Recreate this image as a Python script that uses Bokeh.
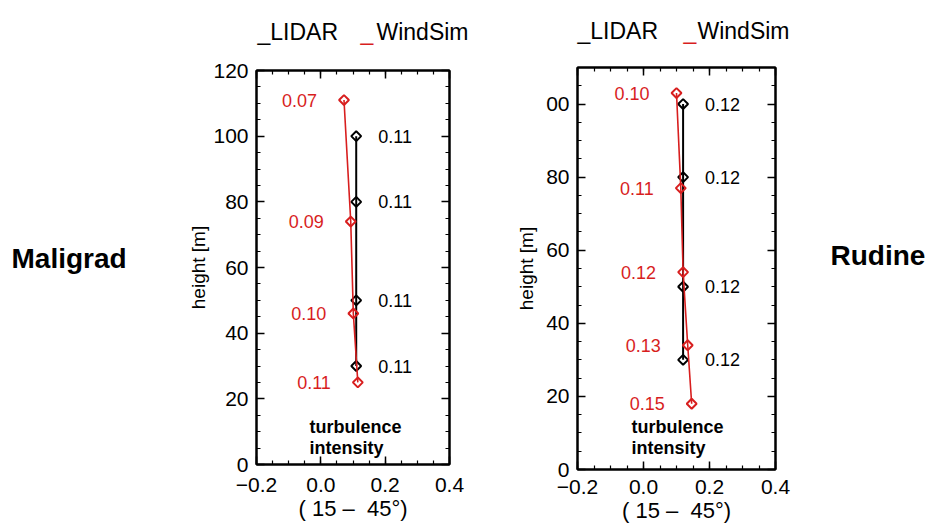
from bokeh.plotting import figure
from bokeh.models import Range1d, FixedTicker, LinearAxis, Label, ColumnDataSource, CustomJSTickFormatter
from bokeh.layouts import row, column
from bokeh.embed import file_html
from bokeh.resources import INLINE
from bokeh.core.properties import value
import math

# ---------------- data ----------------
mal_lidar_h = [100, 80, 50, 30]
mal_lidar_ti = [0.11, 0.11, 0.11, 0.11]
mal_lidar_lbl = ["0.11", "0.11", "0.11", "0.11"]
mal_ws_h = [111, 74, 46, 25]
mal_ws_ti = [0.072, 0.093, 0.101, 0.115]
mal_ws_lbl = ["0.07", "0.09", "0.10", "0.11"]

rud_lidar_h = [100, 80, 50, 30]
rud_lidar_ti = [0.12, 0.12, 0.12, 0.12]
rud_lidar_lbl = ["0.12", "0.12", "0.12", "0.12"]
rud_ws_h = [103, 77, 54, 34, 18]
rud_ws_ti = [0.10, 0.113, 0.12, 0.134, 0.146]
rud_ws_lbl = ["0.10", "0.11", "0.12", "0.13", "0.15"]

x_ticks = [-0.2, 0.0, 0.2, 0.4]
x_tick_labels = {-0.2: "\u22120.2", 0.0: "0.0", 0.2: "0.2", 0.4: "0.4"}
x_minor = [-0.2 + 0.05 * i for i in range(13)]
mal_y_ticks = [0, 20, 40, 60, 80, 100, 120]
rud_y_ticks = [0, 20, 40, 60, 80, 100]
rud_y_tick_labels = {100: "00"}

FONT = "Liberation Sans"
RED = "#d81e1e"
TOP = 50  # height of the strip holding the legends


def style_axis(ax, ticks, minor, labels=True, size="21px", standoff=8):
    ax.ticker = FixedTicker(ticks=ticks, minor_ticks=minor)
    ax.major_tick_in = 8
    ax.major_tick_out = 0
    ax.minor_tick_in = 4
    ax.minor_tick_out = 0
    ax.axis_line_width = 2
    ax.major_tick_line_width = 1.5
    ax.minor_tick_line_width = 1.2
    ax.major_label_text_font = FONT
    ax.major_label_text_font_size = size
    ax.major_label_text_color = "black"
    ax.major_label_standoff = standoff
    ax.axis_label_text_font = FONT
    ax.axis_label_text_font_style = "normal"
    ax.axis_label_text_color = "black"
    if not labels:
        ax.formatter = CustomJSTickFormatter(code="return '';")


def panel(width, borders, y_end, y_ticks, y_minor, y_overrides,
          l_h, l_ti, l_lbl, w_h, w_ti, w_lbl, xstand, ylab_stand, xlab_stand):
    left, right, top, bottom = borders
    p = figure(width=width, height=529 - TOP, output_backend="svg", toolbar_location=None,
               x_range=Range1d(-0.2, 0.4), y_range=Range1d(0, y_end),
               min_border_left=left, min_border_right=right,
               min_border_top=top, min_border_bottom=bottom,
               x_axis_label="( 15 \u2013\u00a0 45\u00b0)", y_axis_label="height [m]")
    p.grid.visible = False
    p.outline_line_color = "black"
    p.outline_line_width = 2
    p.background_fill_color = "white"
    p.border_fill_color = "white"

    xa = p.xaxis[0]
    style_axis(xa, x_ticks, x_minor, standoff=xstand)
    xa.major_label_overrides = x_tick_labels
    xa.axis_label_text_font_size = "22px"
    xa.axis_label_standoff = xlab_stand

    ya = p.yaxis[0]
    style_axis(ya, y_ticks, y_minor, standoff=8)
    ya.major_label_overrides = y_overrides
    ya.axis_label_text_font_size = "19px"
    ya.axis_label_standoff = ylab_stand

    ra = LinearAxis()
    style_axis(ra, y_ticks, y_minor, labels=False, size="1px", standoff=0)
    p.add_layout(ra, "right")
    ta = LinearAxis()
    style_axis(ta, x_ticks, x_minor, labels=False, size="1px", standoff=0)
    p.add_layout(ta, "above")

    ls = ColumnDataSource(dict(x=l_ti, y=l_h, t=l_lbl))
    ws = ColumnDataSource(dict(x=w_ti, y=w_h, t=w_lbl))

    p.line("x", "y", source=ls, line_color="black", line_width=2)
    p.scatter("x", "y", source=ls, marker="square", angle=math.pi / 4, size=7,
              fill_color=None, line_color="black", line_width=2)
    p.line("x", "y", source=ws, line_color=RED, line_width=1.6)
    p.scatter("x", "y", source=ws, marker="square", angle=math.pi / 4, size=7,
              fill_color=None, line_color=RED, line_width=2)

    p.text("x", "y", text="t", source=ls, x_offset=22, text_align="left",
           text_baseline="middle", text_font=value(FONT), text_font_size="18px",
           text_color="black")
    p.text("x", "y", text="t", source=ws, x_offset=-27, text_align="right",
           text_baseline="middle", text_font=value(FONT), text_font_size="18px",
           text_color=RED)
    return p


def blank(width, height):
    p = figure(width=width, height=height, output_backend="svg", toolbar_location=None,
               min_border=0, x_axis_location=None, y_axis_location=None,
               x_range=Range1d(0, 1), y_range=Range1d(0, 1))
    p.grid.visible = False
    p.outline_line_color = None
    p.background_fill_color = "white"
    p.border_fill_color = "white"
    return p


def lab(p, text, x, y, size, color="black", bold=False):
    # x, y: canvas pixels of the text's left baseline, from the figure's top-left
    p.add_layout(Label(x=x, y=y, x_units="canvas", y_units="canvas", text=text,
                       text_font=FONT, text_font_size=size, text_color=color,
                       text_font_style="bold" if bold else "normal",
                       text_align="left", text_baseline="alphabetic"))


pa = panel(310, (76, 41, 70 - TOP, 65), 120, mal_y_ticks, list(range(0, 121, 5)), {},
           mal_lidar_h, mal_lidar_ti, mal_lidar_lbl, mal_ws_h, mal_ws_ti, mal_ws_lbl,
           xstand=13, ylab_stand=1, xlab_stand=1)
pb = panel(305, (87, 20, 67 - TOP, 60), 110, rud_y_ticks, list(range(0, 111, 5)), rud_y_tick_labels,
           rud_lidar_h, rud_lidar_ti, rud_lidar_lbl, rud_ws_h, rud_ws_ti, rud_ws_lbl,
           xstand=10, ylab_stand=6, xlab_stand=1)

# legend strip
top = blank(930, TOP)
lab(top, "_LIDAR", 257, 31.5, "23px")
lab(top, "_", 360, 31.5, "23px", color=RED)
lab(top, "WindSim", 376, 31.5, "23px")
lab(top, "_LIDAR", 577, 30.5, "23px")
lab(top, "_", 683, 30.5, "23px", color=RED)
lab(top, "WindSim", 697, 30.5, "23px")

# site names
fl = blank(180, 529 - TOP)
lab(fl, "Maligrad", 11, 258 - TOP, "28px", bold=True)
fr = blank(135, 529 - TOP)
lab(fr, "Rudine", 35, 255 - TOP, "28px", bold=True)

# annotations inside the frames
lab(pa, "turbulence", 129, 426.7 - TOP, "18px", bold=True)
lab(pa, "intensity", 129, 447 - TOP, "18px", bold=True)
lab(pb, "turbulence", 141, 426.7 - TOP, "18px", bold=True)
lab(pb, "intensity", 141, 447 - TOP, "18px", bold=True)

layout = column(top, row(fl, column(pa), column(pb), fr))
open("out.html", "w").write(file_html(layout, INLINE))
